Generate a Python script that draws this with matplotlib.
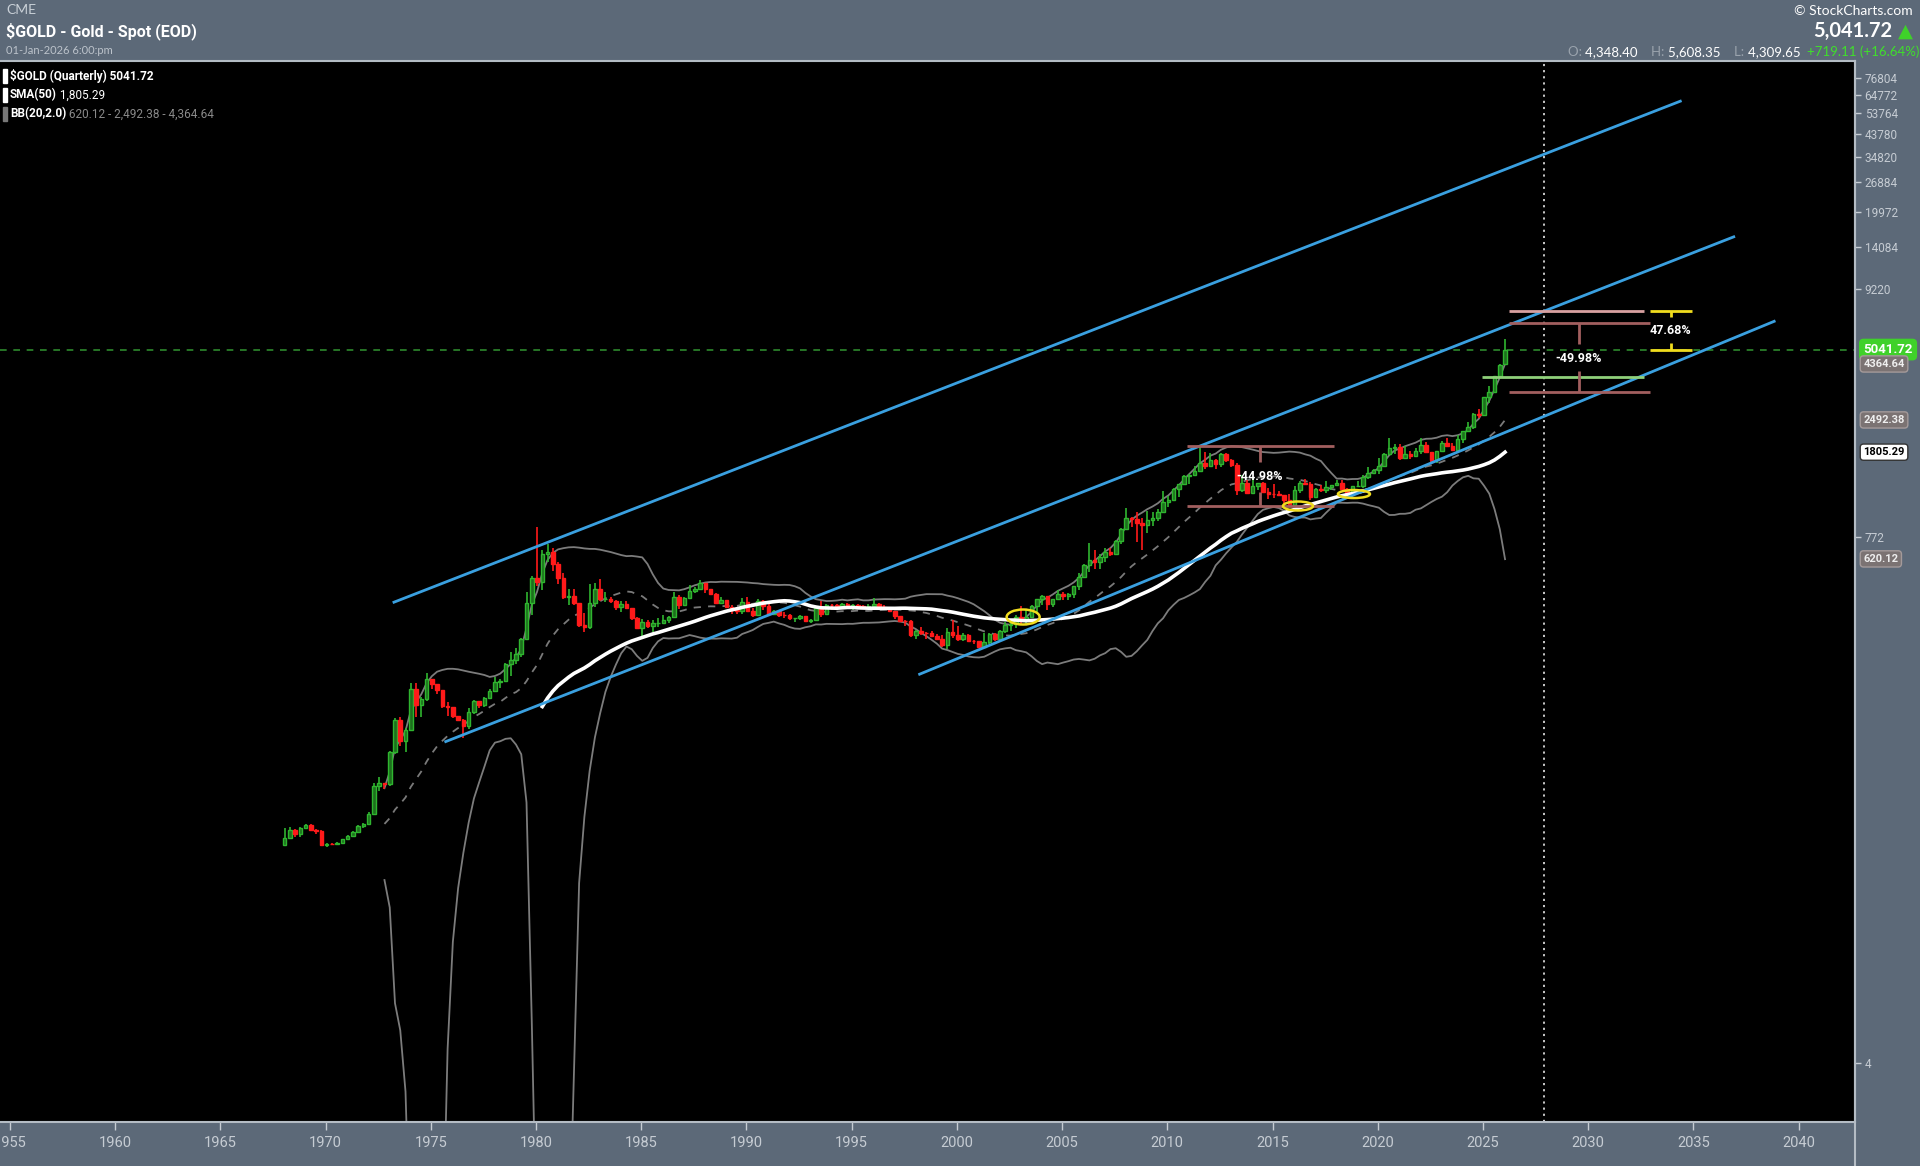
import numpy as np
import pandas as pd
import matplotlib
matplotlib.use("Agg")
import matplotlib.pyplot as plt
from matplotlib import transforms
from matplotlib.patches import Ellipse

# ---------------- data (quarterly, 1968 Q1 .. 2026 Q1) ----------------
start_year = 1968
closes = [
    38.0, 41.0, 39.5, 41.9,        # 1968
    43.0, 41.3, 40.8, 35.2,        # 1969
    35.9, 35.6, 36.2, 37.4,        # 1970
    38.9, 40.1, 42.6, 43.6,        # 1971
    48.3, 63.9, 65.5, 64.9,        # 1972
    90.0, 123.3, 100.0, 112.3,     # 1973
    169.0, 143.0, 151.8, 186.5,    # 1974
    177.0, 166.3, 142.0, 140.3,    # 1975
    128.2, 123.8, 116.0, 134.5,    # 1976
    148.9, 143.0, 154.1, 164.9,    # 1977
    181.6, 183.1, 217.1, 226.0,    # 1978
    240.1, 277.5, 397.3, 512.0,    # 1979
    494.5, 653.5, 666.8, 589.8,    # 1980
    513.8, 422.0, 428.8, 397.5,    # 1981
    320.0, 315.0, 397.0, 456.9,    # 1982
    414.8, 416.0, 405.0, 381.5,    # 1983
    394.3, 377.6, 343.8, 309.0,    # 1984
    329.5, 317.0, 326.0, 327.0,    # 1985
    338.0, 345.0, 423.0, 390.9,    # 1986
    421.0, 448.0, 459.0, 486.5,    # 1987
    457.0, 436.5, 397.0, 410.3,    # 1988
    385.0, 373.0, 366.5, 401.0,    # 1989
    368.5, 352.2, 408.4, 386.2,    # 1990
    355.7, 368.4, 354.9, 353.2,    # 1991
    341.7, 343.4, 349.0, 333.0,    # 1992
    337.8, 378.0, 355.5, 391.8,    # 1993
    389.2, 387.3, 394.9, 383.3,    # 1994
    392.0, 387.0, 384.0, 387.0,    # 1995
    396.4, 382.0, 379.0, 369.3,    # 1996
    348.8, 334.6, 332.1, 290.2,    # 1997
    301.0, 296.3, 293.9, 287.8,    # 1998
    279.5, 261.3, 299.0, 290.3,    # 1999
    278.4, 288.2, 273.6, 272.7,    # 2000
    257.7, 270.6, 293.1, 279.0,    # 2001
    301.4, 318.5, 323.7, 347.2,    # 2002
    334.9, 346.0, 388.0, 416.3,    # 2003
    427.3, 395.8, 415.7, 438.0,    # 2004
    427.5, 437.1, 473.3, 517.0,    # 2005
    582.0, 613.5, 599.3, 632.0,    # 2006
    663.0, 650.5, 743.0, 836.5,    # 2007
    933.5, 928.3, 884.5, 869.8,    # 2008
    916.5, 934.5, 995.8, 1096.0,   # 2009
    1113.3, 1244.0, 1307.0, 1421.0,  # 2010
    1439.0, 1502.0, 1620.0, 1565.0,  # 2011
    1668.0, 1598.0, 1776.0, 1675.0,  # 2012
    1595.0, 1234.0, 1327.0, 1202.0,  # 2013
    1284.0, 1327.0, 1210.0, 1184.0,  # 2014
    1183.0, 1172.0, 1115.0, 1061.0,  # 2015
    1235.0, 1322.0, 1315.0, 1151.0,  # 2016
    1249.0, 1242.0, 1279.0, 1303.0,  # 2017
    1325.0, 1253.0, 1192.0, 1282.0,  # 2018
    1292.0, 1409.0, 1472.0, 1517.0,  # 2019
    1577.0, 1781.0, 1886.0, 1898.0,  # 2020
    1708.0, 1770.0, 1742.0, 1829.0,  # 2021
    1937.0, 1807.0, 1661.0, 1824.0,  # 2022
    1969.0, 1919.0, 1849.0, 2063.0,  # 2023
    2230.0, 2327.0, 2635.0, 2625.0,  # 2024
    3124.0, 3303.0, 3858.0, 4322.6,  # 2025
    5041.72,                         # 2026
]
highs = [
    42.0, 42.5, 41.5, 42.5,
    43.8, 43.5, 41.5, 41.0,
    36.0, 36.0, 36.5, 37.6,
    39.2, 40.8, 43.0, 44.0,
    49.0, 66.0, 70.0, 66.0,
    91.0, 126.0, 127.0, 114.0,
    179.0, 179.0, 156.0, 197.5,
    186.0, 177.0, 167.0, 148.0,
    141.0, 129.0, 125.0, 140.0,
    151.0, 150.0, 155.0, 168.0,
    190.0, 186.0, 219.0, 245.0,
    253.0, 281.0, 447.0, 524.0,
    850.0, 675.0, 720.0, 690.0,
    600.0, 540.0, 460.0, 460.0,
    398.0, 361.0, 481.0, 488.0,
    509.0, 447.0, 424.0, 412.0,
    406.0, 406.0, 362.0, 346.0,
    339.0, 336.0, 336.0, 344.0,
    354.0, 351.0, 444.0, 432.0,
    423.0, 478.0, 467.0, 502.0,
    486.0, 458.0, 440.0, 424.0,
    412.0, 392.0, 374.0, 418.0,
    423.0, 381.0, 414.0, 413.0,
    403.0, 370.0, 370.0, 363.0,
    356.0, 344.0, 353.0, 350.0,
    339.0, 378.0, 406.0, 396.0,
    396.0, 395.0, 397.0, 398.0,
    394.0, 396.0, 390.0, 396.0,
    418.0, 397.0, 389.0, 384.0,
    369.0, 350.0, 335.0, 335.0,
    305.0, 314.0, 297.0, 302.0,
    293.0, 290.0, 310.0, 338.0,
    316.0, 294.0, 291.0, 276.0,
    273.0, 294.0, 296.0, 294.0,
    305.0, 331.0, 328.0, 352.0,
    388.0, 372.0, 391.0, 417.0,
    432.0, 427.0, 416.0, 456.0,
    446.0, 441.0, 474.0, 538.0,
    588.0, 730.0, 680.0, 650.0,
    690.0, 693.0, 746.0, 848.0,
    1033.0, 946.0, 988.0, 935.0,
    1006.0, 990.0, 1024.0, 1226.0,
    1162.0, 1265.0, 1315.0, 1432.0,
    1447.0, 1577.0, 1921.0, 1803.0,
    1792.0, 1678.0, 1790.0, 1796.0,
    1694.0, 1616.0, 1434.0, 1361.0,
    1392.0, 1332.0, 1345.0, 1255.0,
    1307.0, 1224.0, 1170.0, 1191.0,
    1283.0, 1358.0, 1375.0, 1337.0,
    1264.0, 1296.0, 1357.0, 1306.0,
    1366.0, 1365.0, 1262.0, 1285.0,
    1346.0, 1439.0, 1557.0, 1522.0,
    1703.0, 1789.0, 2075.0, 1965.0,
    1959.0, 1916.0, 1834.0, 1877.0,
    2070.0, 1998.0, 1814.0, 1833.0,
    2009.0, 2079.0, 1987.0, 2135.0,
    2236.0, 2450.0, 2685.0, 2790.0,
    3149.0, 3500.0, 3872.0, 4381.0,
    5608.35,
]
lows = [
    35.0, 37.5, 38.5, 38.5,
    41.9, 40.5, 39.5, 35.0,
    34.8, 35.2, 35.4, 36.0,
    37.3, 38.4, 40.0, 42.0,
    43.5, 48.0, 61.0, 62.0,
    64.0, 88.0, 95.0, 90.0,
    112.0, 128.0, 127.0, 149.0,
    168.0, 161.0, 139.0, 129.0,
    126.0, 123.0, 103.5, 113.0,
    131.0, 140.0, 141.0, 153.0,
    165.0, 171.0, 182.0, 193.0,
    216.0, 232.0, 276.0, 353.0,
    474.0, 453.0, 600.0, 549.0,
    480.0, 417.0, 391.0, 390.0,
    313.0, 297.0, 308.0, 385.0,
    408.0, 401.0, 398.0, 372.0,
    363.0, 375.0, 335.0, 307.0,
    284.0, 310.0, 298.0, 313.0,
    326.0, 325.0, 344.0, 376.0,
    388.0, 417.0, 440.0, 452.0,
    439.0, 434.0, 395.0, 394.0,
    380.0, 358.0, 356.0, 356.0,
    367.0, 345.0, 352.0, 370.0,
    355.0, 355.0, 348.0, 343.0,
    338.0, 330.0, 336.0, 330.0,
    326.0, 336.0, 347.0, 354.0,
    373.0, 374.0, 380.0, 378.0,
    372.0, 382.0, 381.0, 381.0,
    387.0, 380.0, 377.0, 367.0,
    340.0, 332.0, 316.0, 283.0,
    279.0, 289.0, 279.0, 284.0,
    279.0, 256.0, 252.0, 280.0,
    273.0, 272.0, 270.0, 264.0,
    255.0, 256.0, 264.0, 273.0,
    277.0, 295.0, 300.0, 310.0,
    321.0, 320.0, 342.0, 362.0,
    390.0, 371.0, 385.0, 410.0,
    410.0, 413.0, 418.0, 456.0,
    516.0, 543.0, 560.0, 561.0,
    603.0, 640.0, 642.0, 722.0,
    834.0, 850.0, 735.0, 681.0,
    800.0, 866.0, 904.0, 995.0,
    1045.0, 1106.0, 1157.0, 1308.0,
    1309.0, 1418.0, 1478.0, 1522.0,
    1563.0, 1527.0, 1556.0, 1635.0,
    1555.0, 1180.0, 1208.0, 1186.0,
    1182.0, 1240.0, 1206.0, 1131.0,
    1142.0, 1162.0, 1077.0, 1046.0,
    1061.0, 1200.0, 1301.0, 1123.0,
    1146.0, 1214.0, 1205.0, 1236.0,
    1301.0, 1250.0, 1160.0, 1183.0,
    1280.0, 1266.0, 1381.0, 1446.0,
    1451.0, 1566.0, 1757.0, 1765.0,
    1677.0, 1680.0, 1687.0, 1721.0,
    1781.0, 1787.0, 1615.0, 1616.0,
    1804.0, 1893.0, 1846.0, 1810.0,
    1984.0, 2222.0, 2286.0, 2536.0,
    2614.0, 2957.0, 3248.0, 3820.0,
    4309.65,
]
first_open = 35.2
last_open = 4348.40

# header / legend values
last_close = 5041.72
change = 719.11
change_pct = 16.64
sma_last = 1805.29
bb_lower_last, bb_mid_last, bb_upper_last = 620.12, 2492.38, 4364.64

# channel lines (year, price) endpoints
channels = [
    ((1973.19, 400.0), (2034.44, 60900.0)),
    ((1975.65, 99.1), (2036.98, 15665.0)),
    ((1998.17, 194.5), (2038.90, 6725.0)),
]

year_ticks = list(range(1955, 2045, 5))
price_ticks = [4, 772, 9220, 14084, 19972, 26884, 34820, 43780, 53764, 64772, 76804]

# ---------------- figure ----------------
W, H = 1920, 1166
BG = "#5c6978"
fig = plt.figure(figsize=(W / 100, H / 100), dpi=100, facecolor=BG)
ax_l, ax_r, ax_t, ax_b = 0, 1855, 61, 1122
ax = fig.add_axes([ax_l / W, 1 - ax_b / H, (ax_r - ax_l) / W, (ax_b - ax_t) / H])
ax.set_facecolor("black")
ax.set_yscale("log")
ax.set_xlim(1954.53, 2042.68)
ax.set_ylim(2.21, 90600)

NARROW = ["Roboto", "DejaVu Sans"]

c = np.array(closes, dtype=float)
h = np.array(highs, dtype=float)
l = np.array(lows, dtype=float)
o = np.r_[first_open, c[:-1]]
o[-1] = last_open
h = np.maximum(h, np.maximum(o, c))
l = np.minimum(l, np.minimum(o, c))
n = len(c)
x = start_year + 0.05 + 0.25 * np.arange(n)
prev = np.r_[first_open, c[:-1]]
up = c >= prev

GREEN_E, GREEN_F = "#2fb52f", "#1d6f1d"
RED = "#ff1a1a"
edge_cols = np.where(up, GREEN_E, RED)
face_cols = np.where(up, GREEN_F, RED)

# Bollinger bands and SMA
s = pd.Series(c)
mid = s.rolling(20).mean()
sd = s.rolling(20).std(ddof=0)
bb_up = mid + 2 * sd
bb_lo = (mid - 2 * sd)
bb_lo = bb_lo.where(bb_lo > 0.5, 0.5).where(mid.notna())
sma50 = s.rolling(50).mean()

ax.plot(x, bb_up, color="#7c7c7c", lw=1.3, zorder=2)
ax.plot(x, bb_lo, color="#7c7c7c", lw=1.3, zorder=2)
ax.plot(x, mid, color="#7a7a7a", lw=1.3, ls=(0, (4, 4)), zorder=2)

# candles
ax.vlines(x, l, h, colors=edge_cols, lw=1.2, zorder=3)
ax.bar(x, np.abs(c - o), bottom=np.minimum(o, c), width=0.17,
       color=face_cols, edgecolor=edge_cols, lw=1.0, zorder=3.5)

ax.plot(x, sma50, color="white", lw=2.6, zorder=4)

# channel lines
for (x0, y0), (x1, y1) in channels:
    ax.plot([x0, x1], [y0, y1], color="#3aa0e0", lw=2.0, zorder=5,
            solid_capstyle="butt")

# reference lines
ax.axhline(last_close, color="#2d8a2d", lw=1.2, ls=(0, (4, 4)), zorder=1.5)
ax.axvline(2027.9, color="#d8d8d8", lw=1.3, ls=(0, (1.2, 2.2)), zorder=1.5)

# ---- annotations: 2011-2015 drawdown ----
PINK_D = "#a25f5f"
PINK_L = "#d9a1a1"
YEL = "#f0dc1e"
ax.hlines([1921, 1057], 2010.94, 2017.92, color=PINK_D, lw=2, zorder=6)
ax.vlines(2014.4, 1634, 1921, color=PINK_D, lw=2, zorder=6)
ax.vlines(2014.4, 1057, 1211, color=PINK_D, lw=2, zorder=6)
ax.text(2014.4, 1422, "-44.98%", color="white", fontsize=9, fontweight="bold",
        family=NARROW, ha="center", va="center", zorder=7)

# ---- annotations: projection ----
ax.hlines(7446, 2026.23, 2032.65, color=PINK_L, lw=2, zorder=6)
ax.hlines([6590, 3296], 2026.23, 2032.94, color=PINK_D, lw=2, zorder=6)
ax.hlines(3830, 2024.96, 2032.65, color="#8fd07a", lw=2, zorder=6)
ax.vlines(2029.56, 5328, 6590, color=PINK_D, lw=2, zorder=6)
ax.vlines(2029.56, 3296, 4068, color=PINK_D, lw=2, zorder=6)
ax.text(2029.56, 4626, "-49.98%", color="white", fontsize=9, fontweight="bold",
        family=NARROW, ha="center", va="center", zorder=7)
ax.hlines([7446, last_close], 2032.94, 2034.94, color=YEL, lw=2, zorder=6)
ax.vlines(2033.93, 6978, 7446, color=YEL, lw=2, zorder=6)
ax.vlines(2033.93, last_close, 5410, color=YEL, lw=2, zorder=6)
ax.text(2033.93, 6131, "47.68%", color="white", fontsize=9, fontweight="bold",
        family=NARROW, ha="center", va="center", zorder=7)

# yellow ellipses (size in pixels)
for (ex, ey, ew, eh) in [(2003.15, 346.6, 33, 15), (2016.21, 1053, 30, 9), (2018.87, 1187, 32, 8)]:
    tr = fig.dpi_scale_trans + transforms.ScaledTranslation(ex, ey, ax.transData)
    ax.add_patch(Ellipse((0, 0), ew / 100, eh / 100, transform=tr, fill=False,
                         edgecolor=YEL, lw=1.8, zorder=6))

# ---------------- axes styling ----------------
for sp in ax.spines.values():
    sp.set_visible(False)
for name in ("right", "bottom", "top"):
    ax.spines[name].set_visible(True)
    ax.spines[name].set_color("#b4bcc4")
    ax.spines[name].set_linewidth(1.5)

ax.yaxis.tick_right()
ax.yaxis.set_minor_locator(matplotlib.ticker.NullLocator())
ax.set_yticks(price_ticks)
ax.set_yticklabels([str(v) for v in price_ticks], family=NARROW)
ax.tick_params(axis="y", which="major", colors="#c6ccd3", length=4, width=1,
               pad=3, labelsize=8.5)
ax.set_xticks(year_ticks)
ax.set_xticklabels([str(v) for v in year_ticks], family=NARROW)
ax.tick_params(axis="x", which="major", colors="#c6ccd3", length=6, width=1,
               pad=4, labelsize=10.5, direction="out")
ax.xaxis.set_minor_locator(matplotlib.ticker.NullLocator())

# right-side value tags
blend = transforms.blended_transform_factory(ax.transAxes, ax.transData)
tags = [
    (last_close, f"{last_close:.2f}", "#3fd12a", "#3fd12a", "white", 9.5),
    (bb_upper_last, f"{bb_upper_last:.2f}", "#7b7373", "#a49a9a", "#eeeeee", 8),
    (bb_mid_last, f"{bb_mid_last:.2f}", "#7b7373", "#a49a9a", "#eeeeee", 8),
    (sma_last, f"{sma_last:.2f}", "white", "#333333", "black", 8),
    (bb_lower_last, f"{bb_lower_last:.2f}", "#7b7373", "#a49a9a", "#eeeeee", 8),
]
for val, txt, fc, ec, tc, fs in tags:
    ax.text(1.0045, val, txt, transform=blend, color=tc, fontsize=fs,
            fontweight="bold", family=NARROW, ha="left", va="center", clip_on=False,
            zorder=10,
            bbox=dict(boxstyle="round,pad=0.28,rounding_size=0.3", fc=fc, ec=ec, lw=1))

# ---------------- header text ----------------
def fpos(px, py):
    return px / W, 1 - py / H

fig.text(*fpos(6, 10), "CME", color="#c9d0d7", fontsize=10, family="Lato",
         ha="left", va="center")
fig.text(*fpos(6, 31), "$GOLD - Gold - Spot (EOD)", color="white", fontsize=11.5,
         fontweight="bold", family="Roboto", ha="left", va="center")
fig.text(*fpos(6, 50), "01-Jan-2026 6:00:pm", color="#bcc3cb", fontsize=8,
         family="Lato", ha="left", va="center")

fig.text(*fpos(1913, 11), "\u00a9 StockCharts.com", color="white", fontsize=10,
         family="Lato", ha="right", va="center")
fig.text(*fpos(1892, 31), f"{last_close:,.2f}", color="white", fontsize=14.5,
         fontweight="bold", family="Lato", ha="right", va="center")
fig.text(*fpos(1913, 31), "\u25b2", color="#3fd12a", fontsize=14,
         family=["DejaVu Sans"], ha="right", va="center")

fig.lines.append(matplotlib.lines.Line2D([ax_r / W, ax_r / W], [0, 1 - ax_t / H],
                                         transform=fig.transFigure, color="#b4bcc4", lw=1.5))

renderer = fig.canvas.get_renderer()

def seq_text(px, py, pieces, **common):
    cur = px
    for txt, kw in pieces:
        t = fig.text(cur / W, 1 - py / H, txt, ha="left", va="center", **{**common, **kw})
        bb = t.get_window_extent(renderer=renderer)
        cur += bb.width

seq_text(1568, 52, [
    ("O: ", dict(color="#9aa3ad")), ("4,348.40    ", dict(color="white")),
    ("H: ", dict(color="#9aa3ad")), ("5,608.35    ", dict(color="white")),
    ("L: ", dict(color="#9aa3ad")), ("4,309.65  ", dict(color="white")),
    (f"+{change:.2f} (+{change_pct:.2f}%)", dict(color="#3fe02a")),
], fontsize=9.5, family="Lato")

# legend (top-left inside chart)
legend_rows = [
    (76, "white", [("$GOLD (Quarterly) 5041.72", dict(color="white", fontweight="bold"))]),
    (95, "white", [("SMA(50)", dict(color="white", fontweight="bold")),
                   (" 1,805.29", dict(color="white"))]),
    (114, "#787878", [("BB(20,2.0)", dict(color="white", fontweight="bold")),
                      (f" {bb_lower_last:,.2f} - {bb_mid_last:,.2f} - {bb_upper_last:,.2f}",
                       dict(color="#8a8a8a"))]),
]
for py, bar_col, pieces in legend_rows:
    fig.patches.append(matplotlib.patches.Rectangle(
        (3 / W, 1 - (py + 7) / H), 4 / W, 14 / H, transform=fig.transFigure,
        color=bar_col, zorder=10))
    seq_text(10, py, pieces, fontsize=8.5, family=NARROW)

fig.savefig("out.png", dpi=100, facecolor=BG)
